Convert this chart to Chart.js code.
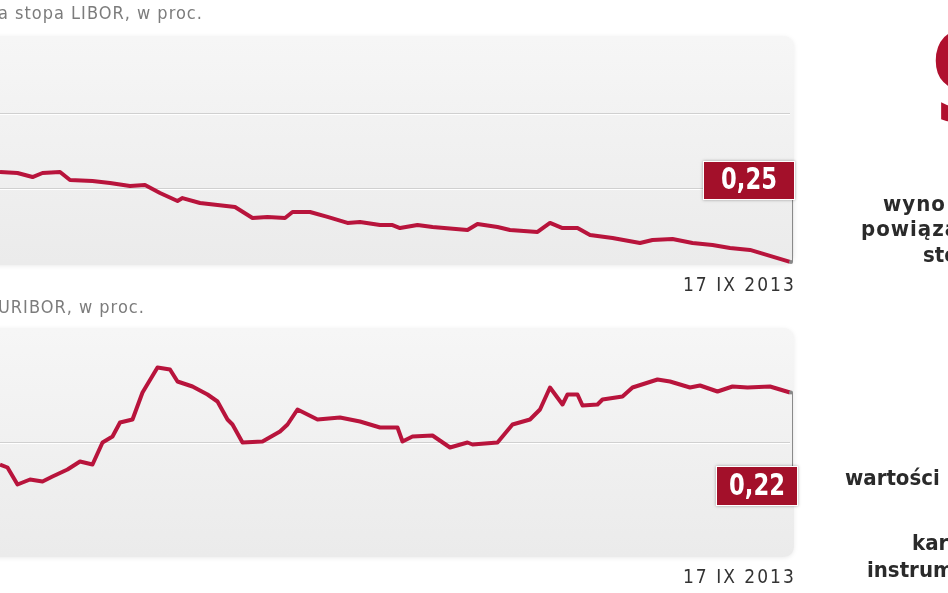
<!DOCTYPE html>
<html><head><meta charset="utf-8">
<script src="https://cdn.jsdelivr.net/npm/chart.js@4/dist/chart.umd.min.js"></script>
<style>
html,body{margin:0;padding:0;background:#fff;width:948px;height:593px;overflow:hidden;position:relative;font-family:"DejaVu Sans Condensed",sans-serif;}
.cv{position:absolute;left:0;}
.t{position:absolute;white-space:nowrap;}
.title{color:#7c7c7c;font-size:18px;letter-spacing:1px;}
.date{color:#333;font-size:19px;letter-spacing:2px;}
.side{color:#2a2a2a;font-weight:bold;font-size:22px;}
</style></head><body>
<canvas id="c1" class="cv" style="top:0" width="948" height="300"></canvas>
<canvas id="c2" class="cv" style="top:290px" width="948" height="300"></canvas>
<div class="t title" style="left:-2px;top:2px">a stopa LIBOR, w proc.</div>
<div class="t title" style="left:-2px;top:296px">URIBOR, w proc.</div>
<div class="t date" style="left:683px;top:273px">17 IX 2013</div>
<div class="t date" style="left:683px;top:565px">17 IX 2013</div>
<div class="t" style="left:930px;top:16px;color:#b0102e;font-weight:bold;font-size:124px;line-height:1">9</div>
<div class="t side" style="left:883px;top:191px;letter-spacing:1px">wyno</div>
<div class="t side" style="left:861px;top:216px;letter-spacing:1px">powiąza</div>
<div class="t side" style="left:923px;top:242px">sto</div>
<div class="t side" style="left:845px;top:465px">wartości</div>
<div class="t side" style="left:912px;top:530px">kar</div>
<div class="t side" style="left:867px;top:557px">instrum</div>
<script>
// days relative to 17 IX 2013
const liborDays = [-316,-309,-303,-299,-292,-288,-279,-272,-264,-258,-252,-245,-243,-236,-229,-222,-215,-209,-202,-199,-192,-185,-177,-172,-164,-159,-156,-149,-143,-129,-125,-117,-112,-101,-96,-91,-85,-80,-71,-60,-55,-47,-39,-31,-24,-16,-9,0];
const liborValues = [0.3107,0.3100,0.3073,0.3100,0.3107,0.3053,0.3047,0.3033,0.3013,0.3020,0.2967,0.2913,0.2933,0.2900,0.2887,0.2873,0.2800,0.2807,0.2800,0.2840,0.2840,0.2807,0.2767,0.2773,0.2753,0.2753,0.2733,0.2753,0.2740,0.2720,0.2760,0.2740,0.2720,0.2707,0.2767,0.2733,0.2733,0.2687,0.2667,0.2633,0.2653,0.2660,0.2633,0.2620,0.2600,0.2587,0.2553,0.2507];
const euriborDays = [-316,-313,-309,-304,-299,-295,-289,-284,-279,-275,-271,-268,-263,-259,-253,-248,-245,-239,-233,-229,-225,-223,-219,-211,-204,-201,-197,-189,-180,-172,-164,-157,-155,-151,-143,-136,-129,-127,-117,-111,-104,-100,-96,-91,-89,-85,-83,-77,-75,-67,-63,-53,-48,-40,-36,-29,-23,-17,-8,0];
const euriborValues = [0.1912,0.1900,0.1832,0.1852,0.1844,0.1864,0.1892,0.1924,0.1912,0.2000,0.2024,0.2080,0.2092,0.2200,0.2300,0.2292,0.2244,0.2224,0.2192,0.2164,0.2092,0.2072,0.2000,0.2004,0.2044,0.2072,0.2132,0.2092,0.2100,0.2084,0.2060,0.2060,0.2004,0.2024,0.2028,0.1980,0.2000,0.1992,0.2000,0.2072,0.2092,0.2132,0.2220,0.2152,0.2192,0.2192,0.2148,0.2152,0.2172,0.2184,0.2220,0.2252,0.2244,0.2220,0.2228,0.2204,0.2224,0.2220,0.2224,0.2200];
const liborGrid = [0.30, 0.35];
const euriborGrid = [0.20];
const liborLabel = "0,25";
const euriborLabel = "0,22";

const RED = '#b8143c';
const BOX = '#a3102a';

function rr(ctx,x,y,w,h,r){ctx.beginPath();ctx.moveTo(x+r,y);ctx.lineTo(x+w-r,y);ctx.quadraticCurveTo(x+w,y,x+w,y+r);ctx.lineTo(x+w,y+h-r);ctx.quadraticCurveTo(x+w,y+h,x+w-r,y+h);ctx.lineTo(x+r,y+h);ctx.quadraticCurveTo(x,y+h,x,y+h-r);ctx.lineTo(x,y+r);ctx.quadraticCurveTo(x,y,x+r,y);ctx.closePath();}

function makeChart(id, days, vals, grid, ymin, ymax, pad, label, boxPos){
  const panel = {
    id:'panel',
    beforeDatasetsDraw(chart){
      const ctx=chart.ctx, a=chart.chartArea, y=chart.scales.y;
      ctx.save();
      const g=ctx.createLinearGradient(0,a.top,0,a.bottom);
      g.addColorStop(0,'#f6f6f6');g.addColorStop(1,'#ebebeb');
      ctx.shadowColor='rgba(0,0,0,0.08)';ctx.shadowBlur=4;ctx.shadowOffsetY=1;
      ctx.fillStyle=g; rr(ctx,a.left-20,a.top-2,a.right-a.left+24,a.bottom-a.top+4,12); ctx.fill();
      ctx.shadowColor='transparent';
      grid.forEach(v=>{const py=Math.round(y.getPixelForValue(v))+0.5;
        ctx.strokeStyle='#d0d0d0';ctx.lineWidth=1;ctx.beginPath();ctx.moveTo(a.left,py);ctx.lineTo(a.right,py);ctx.stroke();
        ctx.strokeStyle='#ffffff';ctx.beginPath();ctx.moveTo(a.left,py+1);ctx.lineTo(a.right,py+1);ctx.stroke();});
      ctx.restore();
    },
    afterDatasetsDraw(chart){
      const ctx=chart.ctx, x=chart.scales.x, y=chart.scales.y;
      const px=x.getPixelForValue(days[days.length-1]), py=y.getPixelForValue(vals[vals.length-1]);
      ctx.save();
      ctx.strokeStyle='#8a8a8a';ctx.lineWidth=1;ctx.beginPath();
      const bx=boxPos[0], by=boxPos[1], bw=boxPos[2], bh=boxPos[3];
      const lx=Math.round(px)+2.5;
      if(by>py){ctx.moveTo(lx,py);ctx.lineTo(lx,by);} else {ctx.moveTo(lx,by+bh);ctx.lineTo(lx,py);}
      ctx.stroke();
      ctx.fillStyle='#888';ctx.beginPath();ctx.arc(px+1,py,2,0,Math.PI*2);ctx.fill();
      ctx.shadowColor='rgba(0,0,0,0.35)';ctx.shadowBlur=3;
      ctx.fillStyle='#fff';ctx.fillRect(bx-1,by-1,bw+2,bh+2);
      ctx.shadowColor='transparent';
      ctx.fillStyle=BOX;ctx.fillRect(bx,by,bw,bh);
      ctx.fillStyle='#fff';ctx.font='bold 30px "DejaVu Sans Condensed",sans-serif';
      ctx.textAlign='center';ctx.textBaseline='middle';
      ctx.translate(bx+bw/2,by+bh/2+1);ctx.scale(0.84,1);
      ctx.fillText(label,0,0);
      ctx.restore();
    }
  };
  return new Chart(document.getElementById(id),{
    type:'line',
    data:{datasets:[{data:days.map((d,i)=>({x:d,y:vals[i]})),borderColor:RED,borderWidth:4,pointRadius:0,tension:0,clip:false,borderJoinStyle:'round'}]},
    options:{responsive:false,animation:false,maintainAspectRatio:false,
      layout:{padding:pad},
      plugins:{legend:{display:false},tooltip:{enabled:false}},
      scales:{x:{type:'linear',display:false,min:days[0],max:days[days.length-1]},
              y:{display:false,min:ymin,max:ymax}}},
    plugins:[panel]
  });
}
makeChart('c1',liborDays,liborValues,liborGrid,0.25,0.40,{top:38,bottom:37,left:0,right:158},liborLabel,[704,162,90,37]);
makeChart('c2',euriborDays,euriborValues,euriborGrid,0.155,0.245,{top:40,bottom:35,left:0,right:158},euriborLabel,[717,177,80,38]);
</script>
</body></html>
